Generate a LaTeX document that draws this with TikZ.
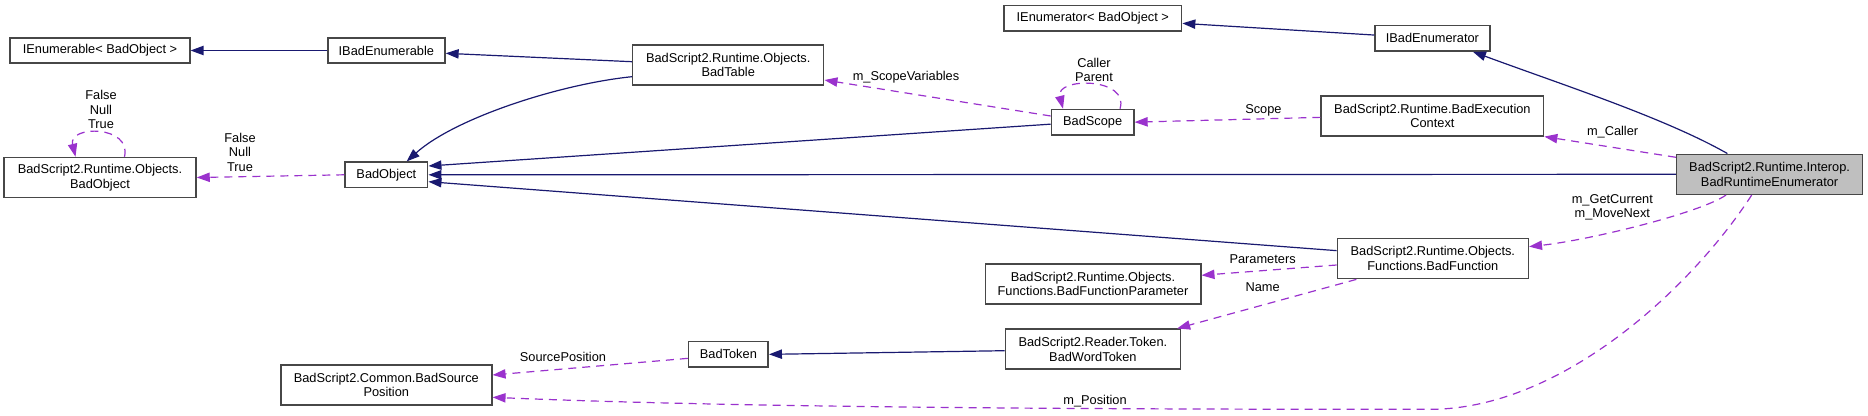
\documentclass[tikz,border=0pt]{standalone}
\usepackage{fontspec}
\setmainfont{Liberation Sans}
\usetikzlibrary{arrows.meta}
\definecolor{inh}{HTML}{191970}
\definecolor{usec}{HTML}{9A32CD}
\definecolor{mainfill}{HTML}{BFBFBF}
\tikzset{
  cls/.style={draw=black!72, line width=1.5pt, fill=white, inner sep=0pt, align=center,
    font=\fontsize{12.8}{14.5}\selectfont, minimum height=25.3pt},
  cls2/.style={cls, minimum height=40pt},
  inherit/.style={draw=inh, line width=1.2pt, -{Triangle[length=13pt,width=9.3pt]}},
  uses/.style={draw=usec, line width=1.2pt, dash pattern=on 8pt off 6pt,
    -{Triangle[length=13pt,width=9.3pt]}},
  lbl/.style={align=center, inner sep=0pt, font=\fontsize{12.8}{14.5}\selectfont}
}
\begin{document}
\begin{tikzpicture}[x=1pt,y=-1pt]
\useasboundingbox (0,0) rectangle (1868,415);
% nodes
\node[cls, minimum width=179.6pt] (ienum) at (100,50.5) {IEnumerable< BadObject >};
\node[cls, minimum width=117.1pt] (ibadenumable) at (386.35,50.5) {IBadEnumerable};
\node[cls2, minimum width=192pt] (objbad) at (100,177.5) {BadScript2.Runtime.Objects.\\BadObject};
\node[cls, minimum width=82.7pt] (badobj) at (386.35,174.8) {BadObject};
\node[cls, minimum width=177.6pt] (ienumr) at (1092.8,18.35) {IEnumerator< BadObject >};
\node[cls2, minimum width=191pt] (table) at (728.2,65) {BadScript2.Runtime.Objects.\\BadTable};
\node[cls, minimum width=82.5pt] (scope) at (1092.65,122.15) {BadScope};
\node[cls, minimum width=114.8pt] (ibadenumr) at (1432.4,38.35) {IBadEnumerator};
\node[cls2, minimum width=222.4pt] (ctx) at (1432.4,115.85) {BadScript2.Runtime.BadExecution\\Context};
\node[cls2, minimum width=186pt, fill=mainfill] (rte) at (1769.6,174.3) {BadScript2.Runtime.Interop.\\BadRuntimeEnumerator};
\node[cls2, minimum width=190.9pt] (func) at (1432.85,258.65) {BadScript2.Runtime.Objects.\\Functions.BadFunction};
\node[cls2, minimum width=215.5pt] (param) at (1093,284) {BadScript2.Runtime.Objects.\\Functions.BadFunctionParameter};
\node[cls2, minimum width=175.1pt] (word) at (1092.85,349.2) {BadScript2.Reader.Token.\\BadWordToken};
\node[cls, minimum width=79.6pt] (token) at (728.4,354.35) {BadToken};
\node[cls2, minimum width=211pt] (srcpos) at (386.3,385) {BadScript2.Common.BadSource\\Position};
% inheritance edges
\draw[inherit] (ibadenumable.west) -- (ienum.east);
\draw[inherit] ([yshift=3.3pt]table.west) -- ([yshift=-2.8pt]ibadenumable.east);
\draw[inherit] ([yshift=-11.7pt]table.west) .. controls (560,84) and (455,118) .. ([xshift=20.3pt]badobj.north);
\draw[inherit] ([yshift=-2pt]scope.west) -- ([yshift=8.8pt]badobj.east);
\draw[inherit] (rte.west) -- (badobj.east);
\draw[inherit] ([yshift=8pt]func.west) -- ([yshift=-6.9pt]badobj.east);
\draw[inherit] ([yshift=3.3pt]ibadenumr.west) -- ([yshift=-5pt]ienumr.east);
\draw[inherit] ([xshift=-42.2pt]rte.north) .. controls (1665,118) and (1563,85) .. ([xshift=40.5pt]ibadenumr.south);
\draw[inherit] ([yshift=-1.5pt]word.west) -- (token.east);
% usage edges
\draw[uses] ([xshift=24.5pt]objbad.north) .. controls (132,125) and (68,125) .. ([xshift=-24.5pt]objbad.north);
\node[lbl] (l1) at (101,109.5) {False\\Null\\True};
\draw[uses] (badobj.west) -- (objbad.east);
\node[lbl] (l2) at (240,152) {False\\Null\\True};
\draw[uses] ([yshift=6.15pt]scope.west) -- ([yshift=-15pt]table.east);
\node[lbl] (l3) at (906,76.7) {m\_ScopeVariables};
\draw[uses] ([xshift=27.35pt]scope.north) .. controls (1130,77) and (1055,77) .. ([xshift=-29.65pt]scope.north);
\node[lbl] (l4) at (1094,69.7) {Caller\\Parent};
\draw[uses] ([yshift=-1.5pt]ctx.west) -- (scope.east);
\node[lbl] (l5) at (1263.4,110.7) {Scope};
\draw[uses] ([yshift=17pt]rte.west) -- (ctx.south east);
\node[lbl] (l6) at (1612.6,131.7) {m\_Caller};
\draw[uses] ([xshift=-43.6pt]rte.south) .. controls (1700,213) and (1590,240) .. ([yshift=12pt]func.east);
\node[lbl] (l7) at (1612.3,207.2) {m\_GetCurrent\\m\_MoveNext};
\draw[uses] ([yshift=-6.35pt]func.west) -- ([yshift=8.7pt]param.east);
\node[lbl] (l8) at (1262.6,259.3) {Parameters};
\draw[uses] ([xshift=-76.5pt]func.south) -- ([xshift=-4pt]word.north east);
\node[lbl] (l9) at (1262.6,286.7) {Name};
\draw[uses] ([yshift=-4pt]token.west) -- ([yshift=10pt]srcpos.east);
\node[lbl] (l10) at (563,356.7) {SourcePosition};
\draw[uses] ([xshift=-17.9pt]rte.south) .. controls (1690,290) and (1560,409.3) .. (1430,409.3)
  .. controls (1000,409.5) and (700,406) .. ([yshift=-12.3pt]srcpos.east);
\node[lbl] (l11) at (1095,400.7) {m\_Position};
\end{tikzpicture}
\end{document}
